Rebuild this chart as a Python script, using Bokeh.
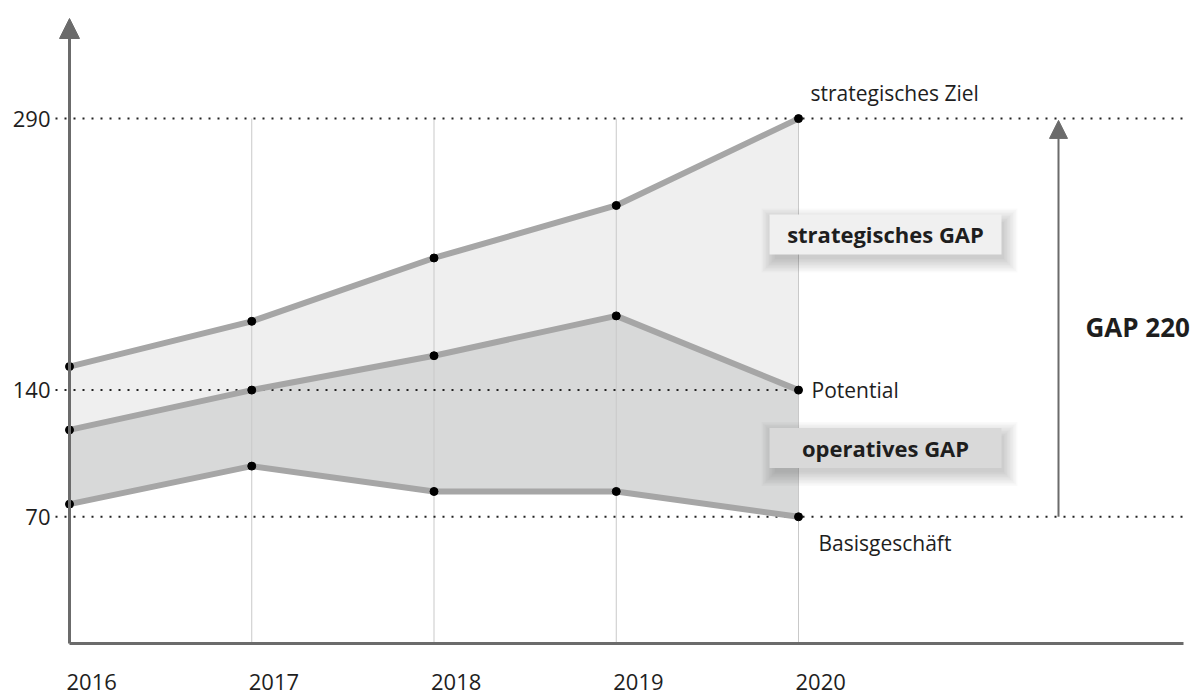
from bokeh.plotting import figure
from bokeh.models import ColumnDataSource, Arrow, NormalHead, Label, Range1d
from bokeh.embed import file_html
from bokeh.resources import INLINE

# ---- data ----
years = [2016, 2017, 2018, 2019, 2020]
strategisch = [153, 178, 213, 242, 290]   # strategisches Ziel
potential = [118, 140, 159, 181, 140]     # Potential
basis = [77, 98, 84, 84, 70]              # Basisgeschäft
y_ticks = [70, 140, 290]
label_ziel = "strategisches Ziel"
label_potential = "Potential"
label_basis = "Basisgeschäft"
label_strat_gap = "strategisches GAP"
label_op_gap = "operatives GAP"
gap_total = strategisch[-1] - basis[-1]   # 220

# ---- layout constants ----
FONT = "Open Sans"
W, H = 1196, 698
PXX = 182.25            # px per year
PXY = 1.81              # px per unit
X0 = years[0] - 69 / PXX
X1 = X0 + W / PXX
Y1 = 643 / PXY
Y0 = Y1 - H / PXY
X_LEFT = years[0] - 14 / PXX          # start of dotted lines
X_RIGHT = years[0] + (1183 - 69) / PXX  # end of x axis / dotted lines
AX = "#6b6b6b"
TXT = "#1e1e1e"

src = ColumnDataSource(dict(x=years, s=strategisch, p=potential, b=basis))

p = figure(frame_width=W, frame_height=H, x_range=Range1d(X0, X1), y_range=Range1d(Y0, Y1),
           output_backend="svg", toolbar_location=None, min_border=0,
           x_axis_type=None, y_axis_type=None)
p.outline_line_color = None
p.xgrid.visible = False
p.ygrid.visible = False
p.background_fill_color = "white"

# areas
p.varea(x="x", y1="p", y2="s", source=src, fill_color="#efefef")
p.varea(x="x", y1="b", y2="p", source=src, fill_color="#d8d9d9")

# vertical grid lines (2017..2020) up to the top target value
p.segment(x0=years[1:], y0=[0] * 4, x1=years[1:], y1=[y_ticks[-1]] * 4,
          line_color="#c9c9c9", line_width=1)

# dotted reference lines
p.segment(x0=[X_LEFT] * 3, y0=y_ticks, x1=[X_RIGHT, years[-1], X_RIGHT], y1=y_ticks,
          line_color="#222222", line_width=2, line_dash="2 7")

# series lines
for col in ["s", "p", "b"]:
    p.line(x="x", y=col, source=src, line_color="#a6a6a6", line_width=6)
for col in ["s", "p", "b"]:
    p.scatter(x="x", y=col, source=src, size=8, fill_color="black", line_color="black")

# axes drawn manually
p.segment(x0=[years[0]], y0=[0], x1=[X_RIGHT], y1=[0], line_color=AX, line_width=3)
p.add_layout(Arrow(x_start=years[0], y_start=0, x_end=years[0], y_end=(643 - 18) / PXY,
                   line_color=AX, line_width=3,
                   end=NormalHead(size=20, fill_color=AX, line_color=AX, line_width=1)))

# GAP arrow
ARROW_X = years[0] + (1058 - 69) / PXX
p.add_layout(Arrow(x_start=ARROW_X, y_start=basis[-1], x_end=ARROW_X, y_end=strategisch[-1] - 1,
                   line_color=AX, line_width=2,
                   end=NormalHead(size=18, fill_color=AX, line_color=AX, line_width=1)))

# boxes with soft shadows
BOX_X = years[-1] + (885 - 798) / PXX
for by, fc, txt in [(226.0, "#f0f0f0", label_strat_gap), (108.0, "#d9d9d9", label_op_gap)]:
    for i in range(10, 0, -1):
        p.rect(x=[BOX_X + 4 / PXX], y=[by - 6 / PXY], width=[226 + 3 * i], height=[34 + 3 * i],
               width_units="screen", height_units="screen",
               fill_color="#000000", fill_alpha=0.018, line_color=None)
    p.rect(x=[BOX_X], y=[by], width=[232], height=[40], width_units="screen", height_units="screen",
           fill_color=fc, line_color=None)
    p.add_layout(Label(x=BOX_X, y=by, text=txt, text_align="center", text_baseline="middle",
                       text_font=FONT, text_font_size="22px", text_font_style="bold",
                       text_color=TXT))

# annotations at 2020
p.add_layout(Label(x=years[-1], y=strategisch[-1], x_offset=12, y_offset=26, text=label_ziel,
                   text_baseline="middle", text_font=FONT, text_font_size="21px", text_color=TXT))
p.add_layout(Label(x=years[-1], y=potential[-1], x_offset=13, y_offset=0, text=label_potential,
                   text_baseline="middle", text_font=FONT, text_font_size="21px", text_color=TXT))
p.add_layout(Label(x=years[-1], y=basis[-1], x_offset=20, y_offset=-26, text=label_basis,
                   text_baseline="middle", text_font=FONT, text_font_size="21px", text_color=TXT))
p.add_layout(Label(x=years[0] + (1085 - 69) / PXX, y=175, text=f"GAP {gap_total}",
                   text_baseline="middle", text_font=FONT, text_font_size="26px",
                   text_font_style="bold", text_color=TXT))

# year labels, left-aligned at each year
for yr in years:
    p.add_layout(Label(x=yr, y=0, x_offset=-3, y_offset=-38, text=str(yr), text_align="left",
                       text_baseline="middle", text_font=FONT, text_font_size="22px",
                       text_color=TXT))

# value labels at the left
for v in y_ticks:
    p.add_layout(Label(x=years[0], y=v, x_offset=-19, text=str(v), text_align="right",
                       text_baseline="middle", text_font=FONT, text_font_size="22px",
                       text_color=TXT))

open("out.html", "w").write(file_html(p, INLINE))
